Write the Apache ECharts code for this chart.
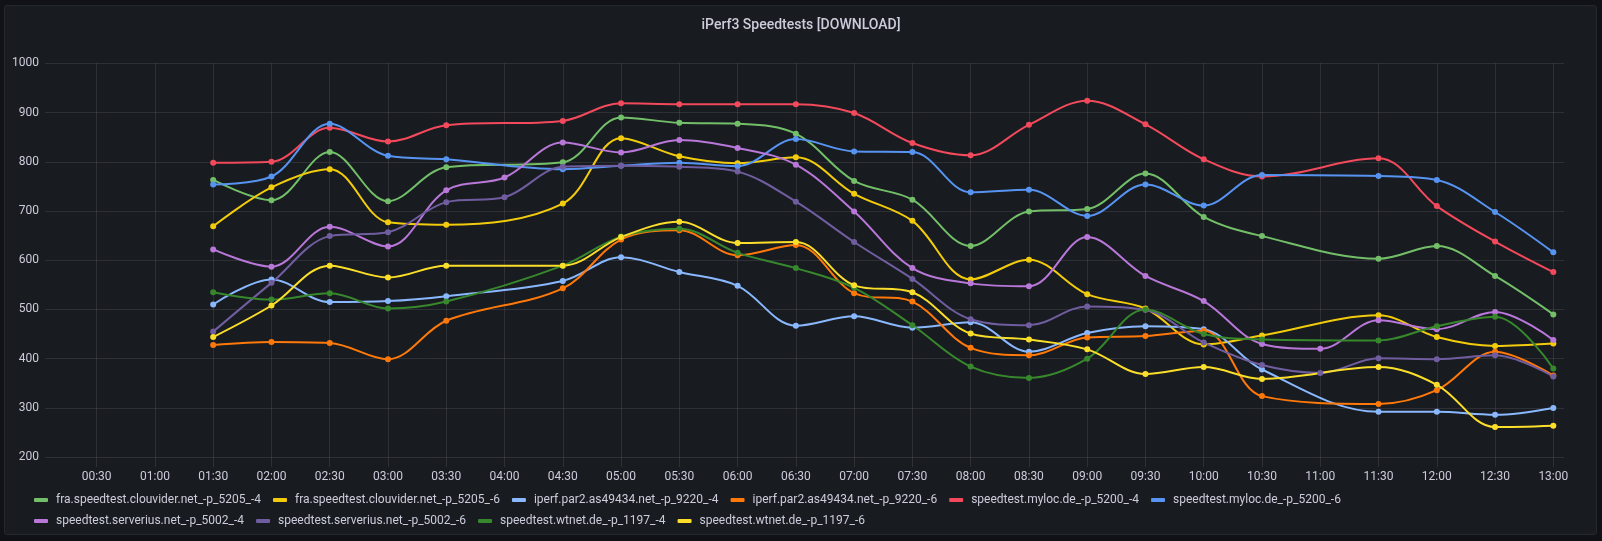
<!DOCTYPE html>
<html><head><meta charset="utf-8">
<script src="https://cdn.jsdelivr.net/npm/echarts@6/dist/echarts.min.js"></script>
<style>
html,body{margin:0;padding:0;background:#111217;width:1602px;height:541px;overflow:hidden;}
#panel{position:absolute;left:4px;top:5px;width:1591px;height:528px;background:#181b1f;border:1px solid #25282e;border-radius:3px;}
#chart{position:absolute;left:0;top:0;width:1602px;height:541px;}
</style></head><body>
<div id="panel"></div><div id="chart"></div>
<script>
// ---- data ----
const times = ['01:30','02:00','02:30','03:00','03:30','04:00','04:30','05:00','05:30','06:00','06:30','07:00','07:30','08:00','08:30','09:00','09:30','10:00','10:30','11:00','11:30','12:00','12:30','13:00'];
const tickLabels = ['00:30','01:00','01:30','02:00','02:30','03:00','03:30','04:00','04:30','05:00','05:30','06:00','06:30','07:00','07:30','08:00','08:30','09:00','09:30','10:00','10:30','11:00','11:30','12:00','12:30','13:00'];
const yTicks = [200,300,400,500,600,700,800,900,1000];
const seriesNames = [
  'fra.speedtest.clouvider.net_-p_5205_-4',
  'fra.speedtest.clouvider.net_-p_5205_-6',
  'iperf.par2.as49434.net_-p_9220_-4',
  'iperf.par2.as49434.net_-p_9220_-6',
  'speedtest.myloc.de_-p_5200_-4',
  'speedtest.myloc.de_-p_5200_-6',
  'speedtest.serverius.net_-p_5002_-4',
  'speedtest.serverius.net_-p_5002_-6',
  'speedtest.wtnet.de_-p_1197_-4',
  'speedtest.wtnet.de_-p_1197_-6'
];
const fraV4       = [763,722,820,720,789,null,799,890,879,877,857,761,723,629,699,704,776,688,649,null,603,629,568,490];
const fraV6       = [669,748,785,677,672,null,715,848,811,797,809,735,680,561,601,531,502,429,447,null,488,444,426,431];
const iperfV4     = [510,561,515,517,527,null,558,606,576,548,467,486,463,474,414,452,466,460,378,null,292,292,286,300];
const iperfV6     = [428,434,432,399,477,null,543,642,661,610,631,533,516,422,407,443,446,457,324,null,308,336,414,366];
const mylocV4     = [798,800,869,841,874,null,883,919,917,917,917,899,838,813,875,924,876,805,770,null,807,710,638,576];
const mylocV6     = [754,770,877,812,805,null,785,792,798,791,846,821,820,738,743,690,754,711,773,null,771,763,698,616];
const serveriusV4 = [622,587,668,628,742,768,839,819,844,828,794,699,584,553,547,647,568,517,430,420,478,460,495,438];
const serveriusV6 = [455,554,649,657,718,728,790,792,790,780,719,637,562,480,468,506,499,433,387,371,401,399,407,364];
const wtnetV4     = [535,520,533,502,516,null,589,648,664,615,584,544,468,384,361,400,500,450,439,null,437,466,485,380];
const wtnetV6     = [444,508,589,565,589,null,589,647,678,635,637,549,535,451,439,419,369,383,359,null,383,347,261,264];
const seriesValues = [fraV4,fraV6,iperfV4,iperfV6,mylocV4,mylocV6,serveriusV4,serveriusV6,wtnetV4,wtnetV6];

// ---- styling ----
const colors = ['#73BF69','#F2CC0C','#8AB8FF','#FF780A','#F2495C','#5794F2','#B877D9','#705DA0','#37872D','#FADE2A'];
const txt = '#ccccdc';
const font = 'Roboto, sans-serif';
const toMin = s => { const p = s.split(':'); return (+p[0])*60 + (+p[1]); };
const fmt = m => { const h = Math.floor(m/60), mm = Math.round(m%60); return String(h).padStart(2,'0')+':'+String(mm).padStart(2,'0'); };
const tickMins = tickLabels.map(toMin);

const series = seriesNames.map((name, i) => ({
  name: name,
  type: 'line',
  smooth: 0.35,
  symbol: 'circle',
  symbolSize: 6,
  showSymbol: true,
  color: colors[i],
  lineStyle: { width: 2, color: colors[i] },
  itemStyle: { color: colors[i] },
  emphasis: { disabled: true },
  data: times.map((t, k) => [toMin(t), seriesValues[i][k]]).filter(d => d[1] !== null)
}));

const legendBase = {
  left: 29,
  orient: 'horizontal',
  icon: 'roundRect',
  itemWidth: 14,
  itemHeight: 4,
  itemGap: 12,
  selectedMode: false,
  textStyle: { color: txt, fontSize: 12, fontFamily: font, padding: [0,0,0,3] }
};

const chart = echarts.init(document.getElementById('chart'), null, { renderer: 'canvas' });
chart.setOption({
  backgroundColor: 'transparent',
  animation: false,
  color: colors,
  title: {
    text: 'iPerf3 Speedtests [DOWNLOAD]',
    left: 'center',
    top: 13,
    textStyle: { color: txt, fontSize: 14, fontWeight: 500, fontFamily: font }
  },
  legend: [
    Object.assign({}, legendBase, { top: 489, data: seriesNames.slice(0, 6) }),
    Object.assign({}, legendBase, { top: 510, data: seriesNames.slice(6) })
  ],
  grid: { left: 45, right: 38, top: 63.3, bottom: 74, containLabel: false, outerBoundsMode: 'none' },
  xAxis: {
    type: 'value',
    min: 3.4,
    max: 785.5,
    axisLine: { show: false },
    axisTick: { show: false, customValues: tickMins },
    axisLabel: { customValues: tickMins, color: txt, fontSize: 12, fontFamily: font, margin: 4, formatter: v => fmt(v) },
    splitLine: { show: true, lineStyle: { color: 'rgba(204,204,220,0.12)', width: 1 } }
  },
  yAxis: {
    type: 'value',
    min: 180,
    max: 1000,
    axisLine: { show: false },
    axisTick: { show: false, customValues: yTicks },
    axisLabel: { customValues: yTicks, color: txt, fontSize: 12, fontFamily: font, margin: 6, formatter: v => String(v) },
    splitLine: { show: true, lineStyle: { color: 'rgba(204,204,220,0.12)', width: 1 } }
  },
  series: series
});
</script>
</body></html>
